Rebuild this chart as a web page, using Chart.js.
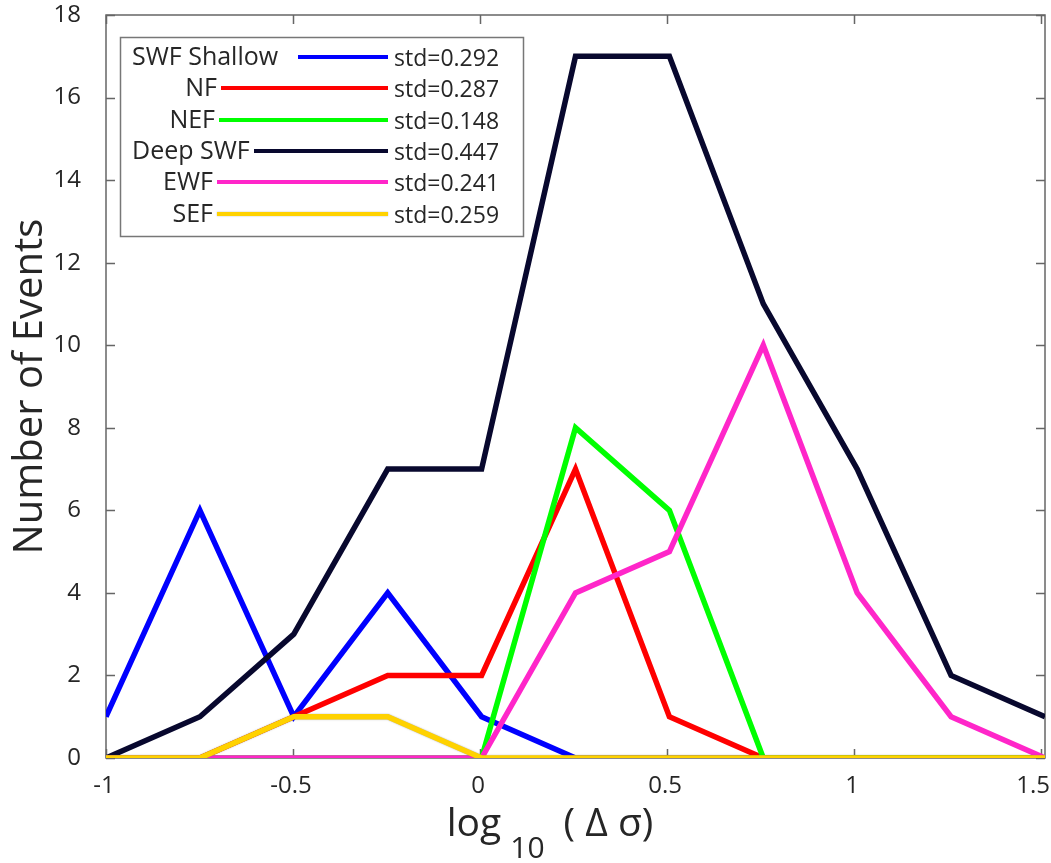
<!DOCTYPE html>
<html>
<head>
<meta charset="utf-8">
<script src="https://cdn.jsdelivr.net/npm/chart.js@4"></script>
<style>
  html, body { margin: 0; padding: 0; background: #ffffff; }
  #wrap { width: 1051px; height: 863px; }
</style>
</head>
<body>
<div id="wrap"><canvas id="c" width="1051" height="863"></canvas></div>
<script>
// ---- data ----
const xValues = [-1, -0.749, -0.498, -0.247, 0.004, 0.255, 0.506, 0.757, 1.008, 1.259, 1.51];
const swfShallow = [1, 6, 1, 4, 1, 0, 0, 0, 0, 0, 0];
const nf         = [0, 0, 1, 2, 2, 7, 1, 0, 0, 0, 0];
const nef        = [0, 0, 0, 0, 0, 8, 6, 0, 0, 0, 0];
const deepSwf    = [0, 1, 3, 7, 7, 17, 17, 11, 7, 2, 1];
const ewf        = [0, 0, 0, 0, 0, 4, 5, 10, 4, 1, 0];
const sef        = [0, 0, 1, 1, 0, 0, 0, 0, 0, 0, 0];
const seriesNames = ['SWF Shallow', 'NF', 'NEF', 'Deep SWF', 'EWF', 'SEF'];
const seriesStd   = ['std=0.292', 'std=0.287', 'std=0.148', 'std=0.447', 'std=0.241', 'std=0.259'];
const xTicks = [-1, -0.5, 0, 0.5, 1, 1.5];
const yTicks = [0, 2, 4, 6, 8, 10, 12, 14, 16, 18];
const xTitleMain = 'log';
const xTitleSub = '10';
const xTitleRest = '( Δ σ)';
const yTitle = 'Number of Events';

// ---- styles ----
const colors = ['#0000ff', '#ff0000', '#00ff00', '#08082e', '#ff26c9', '#ffd200'];
const FONT = "'Open Sans', 'Noto Sans', sans-serif";
const AXIS_COLOR = '#666666';
const TEXT_COLOR = '#262626';
const TICK_SIZE = 24;
const TICK_FONT = TICK_SIZE + 'px ' + FONT;

const allSeries = [swfShallow, nf, nef, deepSwf, ewf, sef];
const datasets = allSeries.map((vals, i) => ({
  label: seriesNames[i],
  data: vals.map((v, k) => ({ x: xValues[k], y: v })),
  borderColor: colors[i],
  backgroundColor: colors[i],
  borderWidth: 5.5,
  borderJoinStyle: 'miter',
  borderCapStyle: 'butt',
  pointRadius: 0,
  pointHoverRadius: 0,
  tension: 0,
  fill: false,
  order: allSeries.length - i
}));

// legend layout (style)
const legendBox = { left: 120, top: 37, right: 523, bottom: 236 };
const legendRowY = [57, 88, 120, 151, 182, 214];
const legendLineStart = [298, 221, 219, 254, 217, 217];
const legendLineEnd = 388;
const legendLeftAligned = [true, false, false, true, false, false];
const outlinedIndex = 5; // SEF drawn with faint grey edge as in the reference

const framePlugin = {
  id: 'frame',
  beforeDatasetDraw(chart, args) {
    if (args.index === outlinedIndex) {
      const ctx = chart.ctx;
      ctx.save();
      ctx.shadowColor = 'rgba(90,90,90,0.55)';
      ctx.shadowBlur = 1.5;
    }
  },
  afterDatasetDraw(chart, args) {
    if (args.index === outlinedIndex) chart.ctx.restore();
  },
  beforeDatasetsDraw(chart) {
    const { ctx, chartArea: a, scales } = chart;
    ctx.save();
    ctx.strokeStyle = AXIS_COLOR;
    ctx.lineWidth = 1.5;
    ctx.strokeRect(a.left, a.top, a.right - a.left, a.bottom - a.top);
    const tl = 9;
    ctx.beginPath();
    xTicks.forEach(v => {
      const px = Math.round(scales.x.getPixelForValue(v)) + 0.5;
      ctx.moveTo(px, a.bottom); ctx.lineTo(px, a.bottom - tl);
      ctx.moveTo(px, a.top); ctx.lineTo(px, a.top + tl);
    });
    yTicks.forEach(v => {
      const py = Math.round(scales.y.getPixelForValue(v)) + 0.5;
      ctx.moveTo(a.left, py); ctx.lineTo(a.left + tl, py);
      ctx.moveTo(a.right, py); ctx.lineTo(a.right - tl, py);
    });
    ctx.stroke();

    // x tick labels (kept inside the canvas)
    ctx.fillStyle = TEXT_COLOR;
    ctx.font = TICK_FONT;
    ctx.textAlign = 'center';
    ctx.textBaseline = 'middle';
    xTicks.forEach(v => {
      const label = String(v);
      const w = ctx.measureText(label).width;
      let px = scales.x.getPixelForValue(v) - 2;
      if (px + w / 2 > chart.width - 1) px = chart.width - 1 - w / 2;
      ctx.fillText(label, px, a.bottom + 28);
    });
    ctx.restore();
  },
  afterDraw(chart) {
    const { ctx, chartArea: a } = chart;
    ctx.save();
    // y title
    ctx.fillStyle = TEXT_COLOR;
    ctx.font = '40px ' + FONT;
    ctx.translate(42, (a.top + a.bottom) / 2);
    ctx.rotate(-Math.PI / 2);
    ctx.textAlign = 'center';
    ctx.textBaseline = 'alphabetic';
    ctx.fillText(yTitle, 0, 0);
    ctx.restore();

    // x title with subscript
    ctx.save();
    ctx.fillStyle = TEXT_COLOR;
    ctx.textBaseline = 'alphabetic';
    ctx.textAlign = 'left';
    const mainFont = '39px ' + FONT;
    const subFont = '30px ' + FONT;
    ctx.font = mainFont;
    const w1 = ctx.measureText(xTitleMain).width;
    const w3 = ctx.measureText(xTitleRest).width;
    ctx.font = subFont;
    const w2 = ctx.measureText(xTitleSub).width;
    const gap1 = 9, gap2 = 19;
    const total = w1 + gap1 + w2 + gap2 + w3;
    let x0 = 550 - total / 2;
    ctx.font = mainFont;
    ctx.fillText(xTitleMain, x0, 836);
    ctx.font = subFont;
    ctx.fillText(xTitleSub, x0 + w1 + gap1, 858);
    ctx.font = mainFont;
    ctx.fillText(xTitleRest, x0 + w1 + gap1 + w2 + gap2, 836);
    ctx.restore();

    // legend
    ctx.save();
    ctx.fillStyle = '#ffffff';
    ctx.fillRect(legendBox.left, legendBox.top, legendBox.right - legendBox.left, legendBox.bottom - legendBox.top);
    ctx.strokeStyle = '#777777';
    ctx.lineWidth = 1.5;
    ctx.strokeRect(legendBox.left + 0.5, legendBox.top + 0.5, legendBox.right - legendBox.left, legendBox.bottom - legendBox.top);
    ctx.textBaseline = 'middle';
    seriesNames.forEach((name, i) => {
      const y = legendRowY[i];
      ctx.fillStyle = TEXT_COLOR;
      ctx.font = '25px ' + FONT;
      if (legendLeftAligned[i]) {
        ctx.textAlign = 'left';
        ctx.fillText(name, 132, y + 1);
      } else {
        ctx.textAlign = 'right';
        ctx.fillText(name, legendLineStart[i] - 4, y + 1);
      }
      ctx.font = '23px ' + FONT;
      ctx.textAlign = 'left';
      ctx.fillText(seriesStd[i], 394, y + 2);
      ctx.save();
      if (i === outlinedIndex) { ctx.shadowColor = 'rgba(90,90,90,0.55)'; ctx.shadowBlur = 1.5; }
      ctx.strokeStyle = colors[i];
      ctx.lineWidth = 4;
      ctx.beginPath();
      ctx.moveTo(legendLineStart[i], y);
      ctx.lineTo(legendLineEnd, y);
      ctx.stroke();
      ctx.restore();
    });
    ctx.restore();
  }
};

new Chart(document.getElementById('c'), {
  type: 'line',
  data: { datasets },
  options: {
    responsive: false,
    animation: false,
    events: [],
    layout: { padding: { left: 0, right: 6, top: 15, bottom: 0 } },
    plugins: { legend: { display: false }, tooltip: { enabled: false }, title: { display: false } },
    scales: {
      x: {
        type: 'linear',
        min: -1,
        max: 1.51,
        afterBuildTicks(scale) { scale.ticks = xTicks.map(v => ({ value: v })); },
        afterFit(scale) { scale.height = 105; scale.paddingLeft = 0; scale.paddingRight = 0; },
        grid: { display: false },
        border: { display: false },
        ticks: { display: false }
      },
      y: {
        type: 'linear',
        min: 0,
        max: 18,
        afterBuildTicks(scale) { scale.ticks = yTicks.map(v => ({ value: v })); },
        afterFit(scale) { scale.width = 106; scale.paddingTop = 0; scale.paddingBottom = 0; },
        grid: { display: false },
        border: { display: false },
        ticks: {
          padding: 17,
          color: TEXT_COLOR,
          font: { family: FONT, size: TICK_SIZE },
          autoSkip: false,
          callback: v => String(v)
        }
      }
    }
  },
  plugins: [framePlugin]
});
</script>
</body>
</html>
